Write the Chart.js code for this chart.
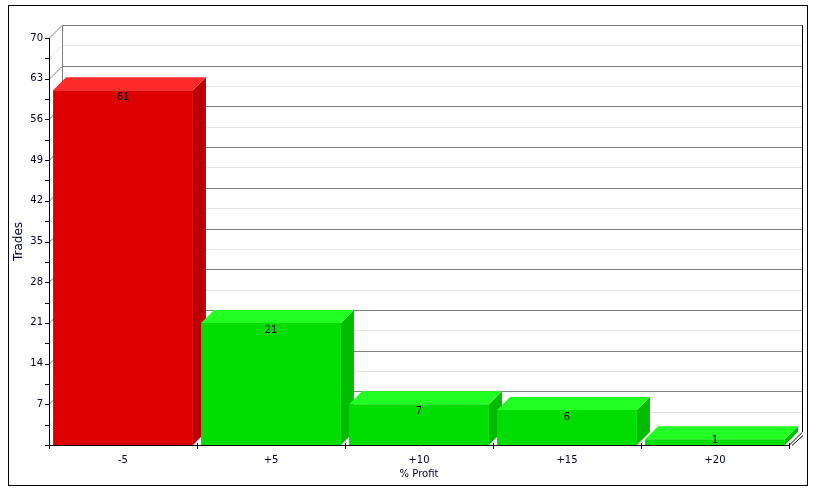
<!DOCTYPE html>
<html>
<head>
<meta charset="utf-8">
<script src="https://cdn.jsdelivr.net/npm/chart.js@4.4.1/dist/chart.umd.min.js"></script>
<style>
  html, body { margin: 0; padding: 0; background: #fff; }
  canvas { display: block; }
</style>
</head>
<body>
<canvas id="ChartProfit_Canvasobj" width="815" height="489"></canvas>
<script>
// values
var profitLabels = ['-5', '+5', '+10', '+15', '+20'];
var tradeCounts = [61, 21, 7, 6, 1];
var barFaceColors = ['#dd0000', '#00dd00', '#00dd00', '#00dd00', '#00dd00'];
var barTopColors = ['#ff2a2a', '#22ff22', '#22ff22', '#22ff22', '#22ff22'];
var barSideColors = ['#bb0000', '#00bb00', '#00bb00', '#00bb00', '#00bb00'];

const DEPTH = 13;
const TEXT_COLOR = '#000033';

// back wall, floor and axes drawn in 3D look
const wall3d = {
  id: 'wall3d',
  beforeDatasetsDraw(chart) {
    const ctx = chart.ctx;
    const x = chart.scales.x, y = chart.scales.y;
    const a = chart.chartArea;
    ctx.save();
    ctx.lineWidth = 1;
    // grid on back wall, every 3.5
    for (let v = 0; v <= 70; v += 3.5) {
      const py = Math.round(y.getPixelForValue(v)) + 0.5;
      const major = (v % 7 === 0);
      if (v === 0) continue;
      ctx.strokeStyle = major ? '#808080' : '#e4e4e4';
      ctx.beginPath();
      ctx.moveTo(a.left + DEPTH, py - DEPTH);
      ctx.lineTo(a.right + DEPTH, py - DEPTH);
      ctx.stroke();
      ctx.beginPath();
      ctx.moveTo(a.left, py);
      ctx.lineTo(a.left + DEPTH, py - DEPTH);
      ctx.stroke();
    }
    // left wall edge
    ctx.strokeStyle = '#808080';
    ctx.beginPath();
    ctx.moveTo(a.left + DEPTH + 0.5, y.getPixelForValue(70) - DEPTH);
    ctx.lineTo(a.left + DEPTH + 0.5, a.bottom - DEPTH);
    ctx.stroke();
    // right wall edge
    ctx.strokeStyle = '#000';
    ctx.beginPath();
    ctx.moveTo(a.right + DEPTH + 0.5, y.getPixelForValue(70) - DEPTH);
    ctx.lineTo(a.right + DEPTH + 0.5, a.bottom - DEPTH);
    ctx.stroke();
    // floor right edge
    ctx.beginPath();
    ctx.moveTo(a.right, a.bottom + 0.5);
    ctx.lineTo(a.right + DEPTH, a.bottom - DEPTH + 0.5);
    ctx.moveTo(a.right + 3, a.bottom + 0.5);
    ctx.lineTo(a.right + DEPTH + 1, a.bottom - DEPTH + 3.5);
    ctx.stroke();

    // bar tops and sides, drawn in order so the next bar hides them
    const meta = chart.getDatasetMeta(0);
    meta.data.forEach(function (bar, i) {
      const l = bar.x - bar.width / 2, r = bar.x + bar.width / 2;
      const t = bar.y, b = bar.base;
      ctx.fillStyle = barSideColors[i];
      ctx.beginPath();
      ctx.moveTo(r, t);
      ctx.lineTo(r + DEPTH, t - DEPTH);
      ctx.lineTo(r + DEPTH, b - DEPTH);
      ctx.lineTo(r, b);
      ctx.closePath();
      ctx.fill();
      ctx.fillStyle = barTopColors[i];
      ctx.beginPath();
      ctx.moveTo(l, t);
      ctx.lineTo(l + DEPTH, t - DEPTH);
      ctx.lineTo(r + DEPTH, t - DEPTH);
      ctx.lineTo(r, t);
      ctx.closePath();
      ctx.fill();
    });
    ctx.restore();
  },
  afterDatasetsDraw(chart) {
    const ctx = chart.ctx;
    const x = chart.scales.x, y = chart.scales.y;
    const a = chart.chartArea;
    ctx.save();
    // value labels, kept inside short bars
    ctx.font = '10px "DejaVu Sans"';
    ctx.fillStyle = '#000';
    ctx.textAlign = 'center';
    ctx.textBaseline = 'middle';
    chart.getDatasetMeta(0).data.forEach(function (bar, i) {
      const ly = Math.min(bar.y + 7.5, (bar.y + bar.base) / 2 - 2);
      ctx.fillText(String(tradeCounts[i]), bar.x, ly);
    });
    // axes
    ctx.strokeStyle = '#000';
    ctx.lineWidth = 1;
    ctx.beginPath();
    ctx.moveTo(a.left + 0.5, y.getPixelForValue(70));
    ctx.lineTo(a.left + 0.5, a.bottom + 0.5);
    ctx.lineTo(a.right, a.bottom + 0.5);
    ctx.stroke();
    for (let v = 0; v <= 70; v += 3.5) {
      const py = Math.round(y.getPixelForValue(v)) + 0.5;
      ctx.beginPath();
      ctx.moveTo(a.left - 4, py);
      ctx.lineTo(a.left, py);
      ctx.stroke();
    }
    const step = (a.right - a.left) / profitLabels.length;
    for (let i = 0; i <= profitLabels.length; i++) {
      const px = Math.round(a.left + i * step) + 0.5;
      ctx.beginPath();
      ctx.moveTo(px, a.bottom - 2);
      ctx.lineTo(px, a.bottom + 4);
      ctx.stroke();
    }
    // outer frame
    ctx.strokeRect(8.5, 5.5, 799, 480);
    ctx.restore();
  }
};

const config_profit = {
  type: 'bar',
  data: {
    labels: profitLabels,
    datasets: [
      {
        label: 'Trades',
        backgroundColor: barFaceColors,
        borderWidth: 0,
        barPercentage: 0.945,
        categoryPercentage: 1.0,
        data: tradeCounts
      }
    ]
  },
  options: {
    responsive: false,
    animation: false,
    layout: { padding: { left: 0, top: 38, right: 26, bottom: 0 } },
    plugins: {
      legend: { display: false },
      tooltip: { enabled: false }
    },
    scales: {
      x: {
        grid: { display: false, drawTicks: false },
        border: { display: false },
        ticks: {
          color: TEXT_COLOR,
          font: { family: 'DejaVu Sans', size: 10 },
          padding: 9
        },
        title: {
          display: true,
          text: '% Profit',
          color: TEXT_COLOR,
          font: { family: 'DejaVu Sans', size: 10 },
          padding: { top: 0, bottom: 9 }
        },
        afterFit: function (s) { s.height = 44; }
      },
      y: {
        min: 0,
        max: 70,
        grid: { display: false, drawTicks: false },
        border: { display: false },
        ticks: {
          stepSize: 7,
          color: TEXT_COLOR,
          font: { family: 'DejaVu Sans', size: 10 },
          padding: 6,
          callback: function (v) { return v === 0 ? '' : v; }
        },
        title: {
          display: true,
          text: 'Trades',
          color: TEXT_COLOR,
          font: { family: 'DejaVu Sans', size: 12 },
          padding: { top: 12, bottom: 0 }
        },
        afterFit: function (s) { s.width = 49; }
      }
    }
  },
  plugins: [wall3d]
};

const ChartProfit = new Chart(
  document.getElementById('ChartProfit_Canvasobj'),
  config_profit
);
</script>
</body>
</html>
